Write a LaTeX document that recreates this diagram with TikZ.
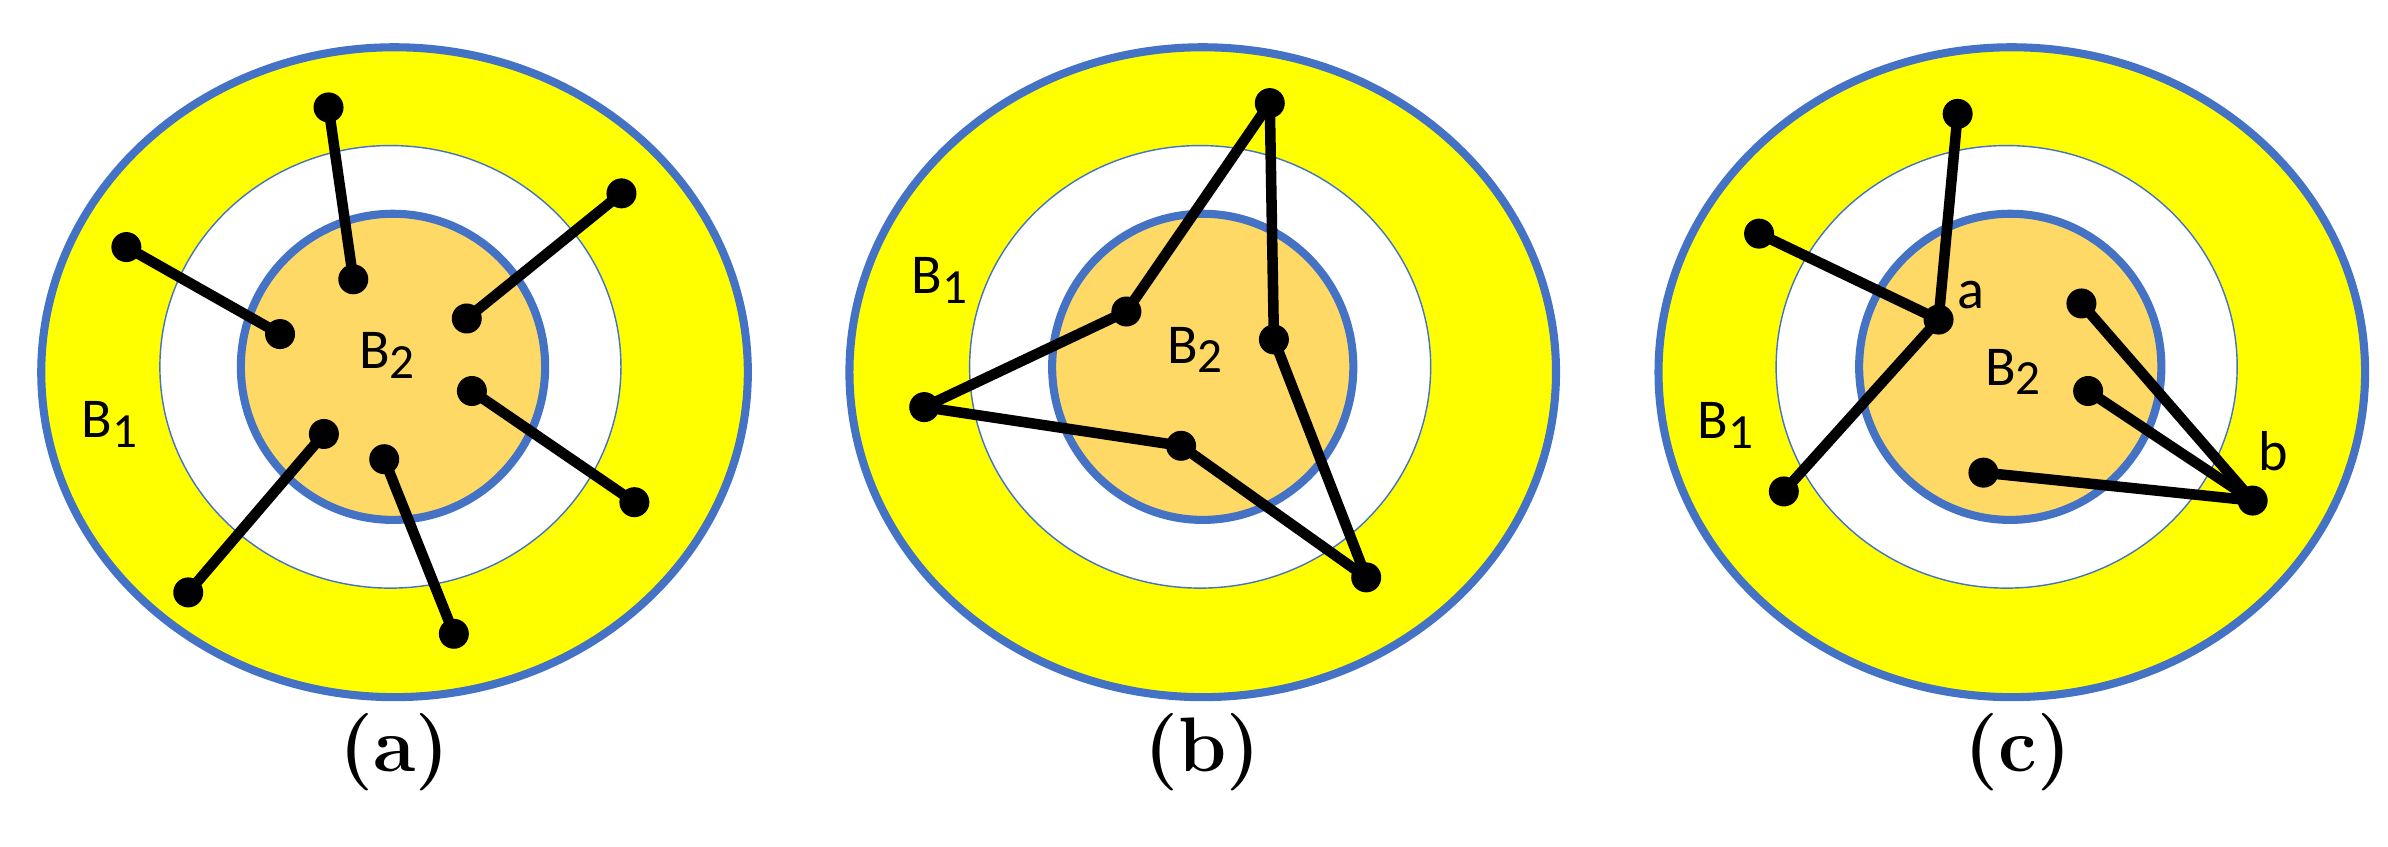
\documentclass[tikz,border=0pt]{standalone}
\usepackage{fontspec}
\newfontfamily\lbl{Carlito}
\definecolor{ringblue}{HTML}{4472C4}
\definecolor{ringyellow}{HTML}{FFFF00}
\definecolor{coreorange}{HTML}{FFD966}
\tikzset{
  outerring/.style={draw=ringblue,line width=2.3pt,fill=ringyellow},
  midring/.style={draw=ringblue,line width=0.4pt,fill=white},
  corering/.style={draw=ringblue,line width=2.3pt,fill=coreorange},
  dot/.style={circle,fill=black,inner sep=0pt,minimum size=0.3cm},
  edge/.style={line width=3pt,black},
  setlbl/.style={font=\lbl\fontsize{16}{16}\selectfont,inner sep=0pt},
  caplbl/.style={font=\fontsize{22}{22}\selectfont\bfseries,inner sep=0pt},
  panel/.style={x=0.005155cm,y=-0.00537cm}
}
\newcommand{\Bsub}[1]{B\raisebox{-0.35ex}{\fontsize{14}{14}\selectfont #1}}
\begin{document}
\begin{tikzpicture}
\useasboundingbox (0,0) rectangle (23.88,-8.46);
% ---------- (a)
\begin{scope}[panel]
\draw[outerring] (765,693) ellipse [x radius=685,y radius=605];
\draw[midring] (757,683) ellipse [x radius=447,y radius=412];
\draw[corering] (762,683) ellipse [x radius=295,y radius=285];
\node[dot] (a1) at (637,200) {}; \node[dot] (a2) at (685,520) {};
\node[dot] (a3) at (245,460) {}; \node[dot] (a4) at (543,622) {};
\node[dot] (a5) at (1205,360) {}; \node[dot] (a6) at (905,593) {};
\node[dot] (a7) at (915,728) {}; \node[dot] (a8) at (1230,935) {};
\node[dot] (a9) at (628,808) {}; \node[dot] (a10) at (365,1103) {};
\node[dot] (a11) at (745,855) {}; \node[dot] (a12) at (880,1180) {};
\draw[edge] (a1.center)--(a2.center); \draw[edge] (a3.center)--(a4.center);
\draw[edge] (a5.center)--(a6.center); \draw[edge] (a7.center)--(a8.center);
\draw[edge] (a9.center)--(a10.center); \draw[edge] (a11.center)--(a12.center);
\node[setlbl] (aB2) at (750,662) {\Bsub{2}};
\node[setlbl] (aB1) at (212,790) {\Bsub{1}};
\node[caplbl] (capa) at (765,1400) {(a)};
\end{scope}
% ---------- (b)
\begin{scope}[panel,shift={(800*1.94,0)}]
\draw[outerring] (780,693) ellipse [x radius=685,y radius=605];
\draw[midring] (775,683) ellipse [x radius=447,y radius=412];
\draw[corering] (780,683) ellipse [x radius=292,y radius=285];
\node[dot] (b1) at (910,192) {}; \node[dot] (b2) at (632,580) {};
\node[dot] (b3) at (918,632) {}; \node[dot] (b4) at (240,758) {};
\node[dot] (b5) at (738,830) {}; \node[dot] (b6) at (1097,1075) {};
\draw[edge] (b1.center)--(b2.center); \draw[edge] (b1.center)--(b3.center);
\draw[edge] (b2.center)--(b4.center); \draw[edge] (b4.center)--(b5.center);
\draw[edge] (b5.center)--(b6.center); \draw[edge] (b3.center)--(b6.center);
\node[setlbl] (bB2) at (765,652) {\Bsub{2}};
\node[setlbl] (bB1) at (270,522) {\Bsub{1}};
\node[caplbl] (capb) at (780,1400) {(b)};
\end{scope}
% ---------- (c)
\begin{scope}[panel,shift={(1588*1.94,0)}]
\draw[outerring] (820,693) ellipse [x radius=685,y radius=605];
\draw[midring] (810,683) ellipse [x radius=447,y radius=412];
\draw[corering] (817,683) ellipse [x radius=293,y radius=285];
\node[dot] (c1) at (715,212) {}; \node[dot] (c2) at (330,435) {};
\node[dot] (ca) at (678,595) {}; \node[dot] (c3) at (378,915) {};
\node[dot] (c4) at (955,565) {}; \node[dot] (c5) at (968,728) {};
\node[dot] (c6) at (765,880) {}; \node[dot] (cb) at (1287,932) {};
\draw[edge] (c1.center)--(ca.center); \draw[edge] (c2.center)--(ca.center);
\draw[edge] (ca.center)--(c3.center); \draw[edge] (c4.center)--(cb.center);
\draw[edge] (c5.center)--(cb.center); \draw[edge] (c6.center)--(cb.center);
\node[setlbl] (la) at (740,550) {a};
\node[setlbl] (lb) at (1327,840) {b};
\node[setlbl] (cB2) at (822,692) {\Bsub{2}};
\node[setlbl] (cB1) at (265,792) {\Bsub{1}};
\node[caplbl] (capc) at (832,1400) {(c)};
\end{scope}
\end{tikzpicture}
\end{document}
